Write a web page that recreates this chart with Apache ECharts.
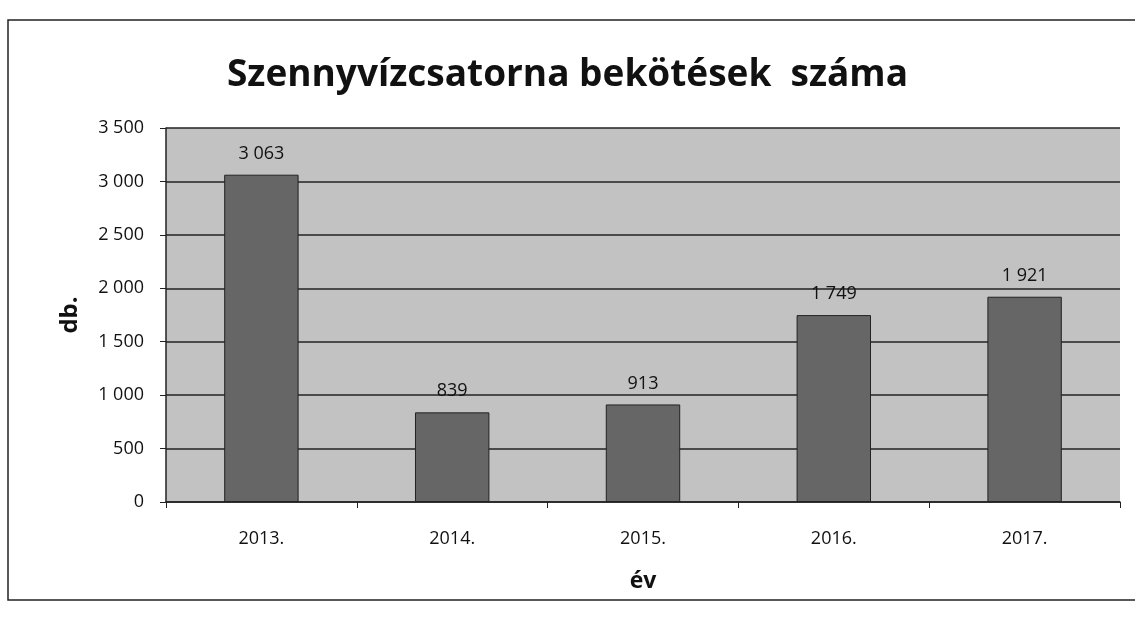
<!DOCTYPE html>
<html><head><meta charset="utf-8">
<script src="https://cdn.jsdelivr.net/npm/echarts@6/dist/echarts.min.js"></script>
<style>html,body{margin:0;padding:0;background:#fff}#c{width:1135px;height:629px}</style>
</head><body><div id="c"></div>
<script>
const categories = ['2013.', '2014.', '2015.', '2016.', '2017.'];
const values = [3063, 839, 913, 1749, 1921];
const yTicks = [0, 500, 1000, 1500, 2000, 2500, 3000, 3500];
const titleText = 'Szennyvízcsatorna bekötések  száma';
const xName = 'év';
const yName = 'db.';

const fmt = v => String(v).replace(/\B(?=(\d{3})+(?!\d))/g, ' ');
const chart = echarts.init(document.getElementById('c'));
chart.setOption({
  backgroundColor: '#ffffff',
  animation: false,
  title: {
    text: titleText, left: 'center', top: 52,
    textStyle: { fontFamily: 'Open Sans', fontSize: 37, fontWeight: 'bold', color: '#111' }
  },
  graphic: [
    { type: 'rect', shape: { x: 8, y: 20, width: 1140, height: 580 },
      style: { fill: 'none', stroke: '#222', lineWidth: 1.5 }, z: -1 }
  ],
  grid: { left: 166, right: 15, top: 128, bottom: 127, show: true,
    backgroundColor: '#c2c2c2', borderColor: '#222', borderWidth: 0 },
  xAxis: {
    type: 'category', data: categories,
    name: xName, nameLocation: 'middle', nameGap: 68,
    nameTextStyle: { fontFamily: 'Open Sans', fontSize: 23, fontWeight: 'bold', color: '#111' },
    axisLine: { lineStyle: { color: '#222', width: 1.5 } },
    axisTick: { show: true, length: 6, lineStyle: { color: '#222' } },
    axisLabel: { fontFamily: 'Open Sans', fontSize: 18, color: '#111', margin: 28 }
  },
  yAxis: {
    type: 'value', min: 0, max: 3500, interval: 500,
    name: yName, nameLocation: 'middle', nameGap: 84, nameRotate: 90,
    nameTextStyle: { fontFamily: 'Open Sans', fontSize: 24, fontWeight: 'bold', color: '#111' },
    axisLine: { show: true, lineStyle: { color: '#222', width: 1.5 } },
    axisTick: { show: true, length: 6, lineStyle: { color: '#222' } },
    axisLabel: { fontFamily: 'Open Sans', fontSize: 18, color: '#111', margin: 22,
      formatter: v => yTicks.includes(v) ? fmt(v) : '' },
    splitLine: { show: true, lineStyle: { color: '#222', width: 1.5 } }
  },
  series: [{
    type: 'bar', data: values, barWidth: '39%',
    itemStyle: { color: '#666666', borderColor: '#222', borderWidth: 1 },
    label: { show: true, position: 'top', distance: 12, formatter: p => fmt(p.value),
      fontFamily: 'Open Sans', fontSize: 18, color: '#111' }
  }]
});
</script></body></html>
